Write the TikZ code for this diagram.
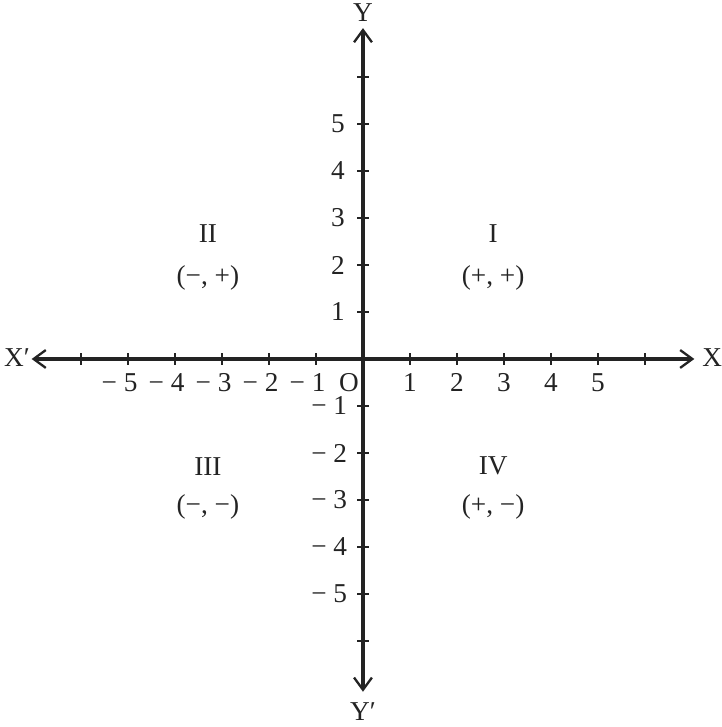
\documentclass[tikz,border=0pt]{standalone}
\usepackage{fontspec}
\setmainfont{Liberation Serif}
\usetikzlibrary{arrows.meta}
\definecolor{AxisInk}{RGB}{35,35,35}
\tikzset{
  axis/.style={draw=AxisInk,line width=1.9pt,{Straight Barb[length=2.6mm,width=3.8mm,line width=1.4pt]}-{Straight Barb[length=2.6mm,width=3.8mm,line width=1.4pt]}},
  tick/.style={draw=AxisInk,line width=1.4pt},
  lab/.style={inner sep=0pt,text=AxisInk,font=\fontsize{16.5}{20}\selectfont},
}
\begin{document}
\begin{tikzpicture}[scale=1]
\useasboundingbox (-7.723,-7.83) rectangle (7.638,7.638);
\coordinate (xl) at (-7.05,0);
\coordinate (xr) at (7.05,0);
\coordinate (yb) at (0,-7.08);
\coordinate (yt) at (0,7.04);
\draw[axis] (xl)--(xr);
\draw[axis] (yb)--(yt);
% ticks
\foreach \k in {-6,...,-1,1,2,...,6}{
  \draw[tick] (\k,-0.12)--(\k,0.12);
  \draw[tick] (-0.12,\k)--(0.12,\k);
}
% numbers on the axes
\foreach \k in {1,...,5}{
  \node[lab] (px\k) at (\k,-0.5) {\k};
  \node[lab] (nx\k) at (-\k-0.18,-0.5) {− \k};
  \node[lab,anchor=east] (py\k) at (-0.38,\k) {\k};
  \node[lab,anchor=east] (ny\k) at (-0.33,-\k) {− \k};
}
\node[lab] (o) at (-0.3,-0.5) {O};
\node[lab] (xname) at (7.43,0.03) {X};
\node[lab] (xpname) at (-7.36,0.03) {X′};
\node[lab] (yname) at (0,7.38) {Y};
\node[lab] (ypname) at (0,-7.51) {Y′};
% quadrants
\node[lab] (q1) at (2.77,2.66) {I};
\node[lab] (s1) at (2.77,1.72) {(+, +)};
\node[lab] (q2) at (-3.3,2.66) {II};
\node[lab] (s2) at (-3.3,1.72) {(−, +)};
\node[lab] (q3) at (-3.3,-2.28) {III};
\node[lab] (s3) at (-3.3,-3.15) {(−, −)};
\node[lab] (q4) at (2.77,-2.28) {IV};
\node[lab] (s4) at (2.77,-3.15) {(+, −)};
\end{tikzpicture}
\end{document}
